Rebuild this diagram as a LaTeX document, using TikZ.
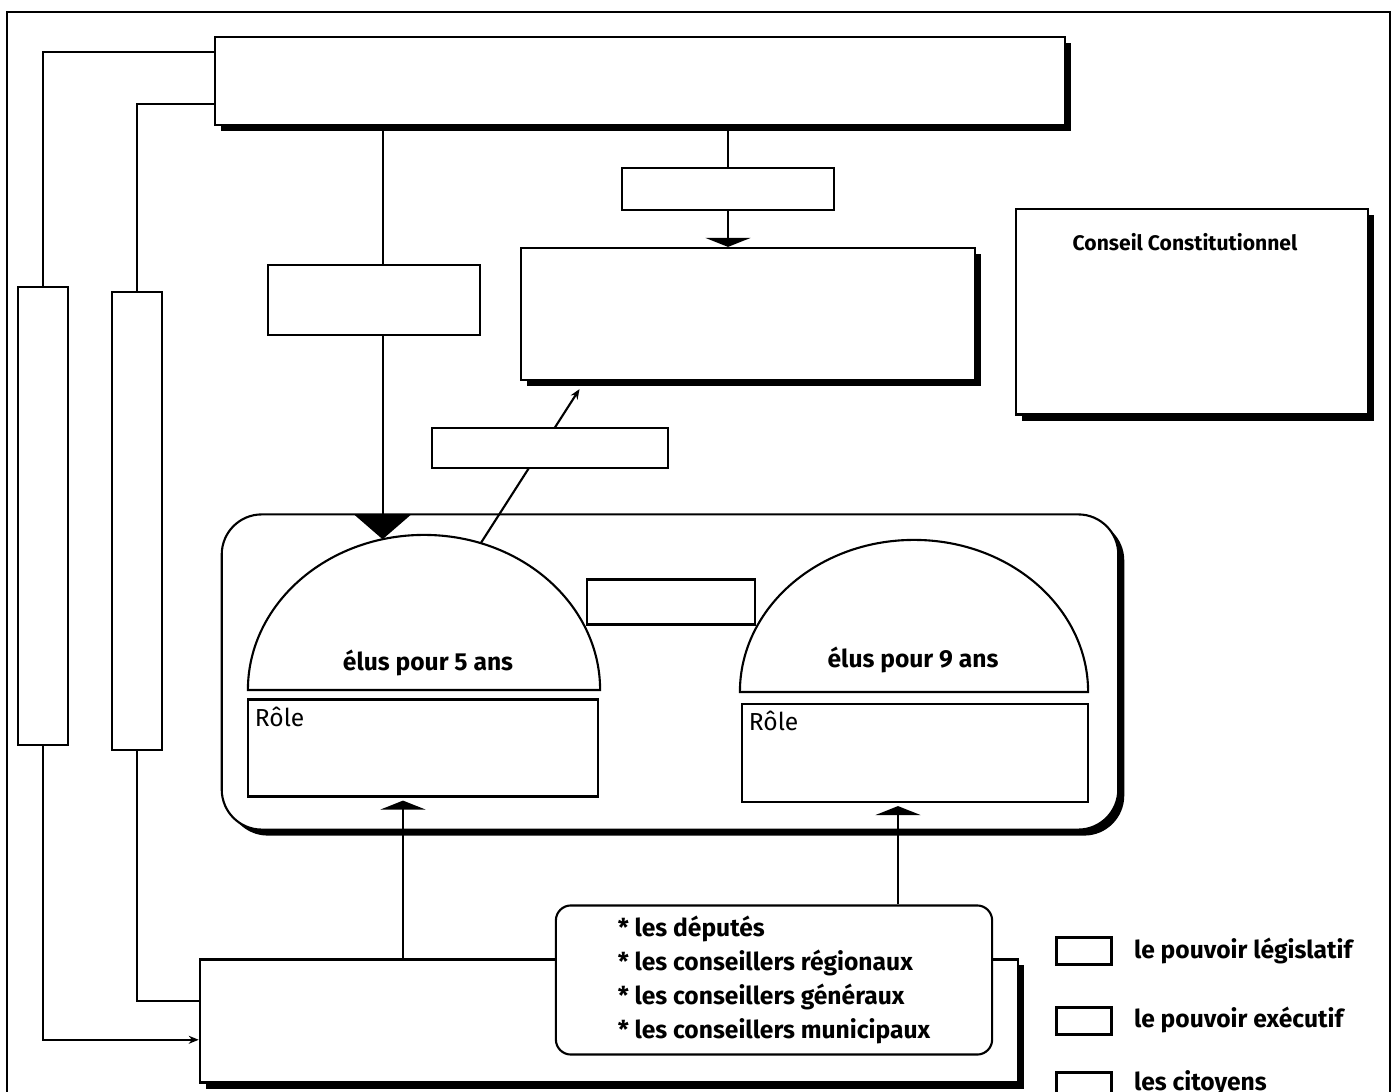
\documentclass[tikz,border=0pt]{standalone}
\usepackage{fontspec}
\setmainfont{Fira Sans}
\usetikzlibrary{calc,arrows.meta,shadows}

\tikzset{
  boite/.style={draw, fill=white, inner sep=0pt},
  ombre/.style={drop shadow={shadow xshift=0.06cm, shadow yshift=-0.06cm, fill=black, opacity=1}},
  fleche/.style={-{Triangle[width=0.45cm,length=0.09cm]}},
  grosse/.style={-{Triangle[width=0.55cm,length=0.24cm]}},
  petite/.style={-{Stealth[length=0.1cm,width=0.08cm]}},
  txt/.style={font=\fontsize{7}{9.7}\selectfont\bfseries, inner sep=0pt}
}

\begin{document}
\begin{tikzpicture}[x=0.01cm,y=-0.01cm,line width=0.6pt]
\useasboundingbox (0,0) rectangle (1398,1092);

% cadre
\draw (7,1092) |- (1390,12) -- (1390,1092);

\node[boite,ombre,minimum width=8.5cm,minimum height=0.88cm] (pres) at (640,81) {};
\node[boite,minimum width=0.5cm,minimum height=4.58cm] (barA) at (43,516) {};
\node[boite,minimum width=0.5cm,minimum height=4.58cm] (barB) at (137,521) {};
\node[boite,minimum width=2.12cm,minimum height=0.42cm] (pm) at (728,189) {};
\node[boite,ombre,minimum width=4.53cm,minimum height=1.32cm] (gouv) at (748,314) {};
\node[boite,ombre,minimum width=3.51cm,minimum height=2.05cm] (cc) at (1192,312) {};
\node[txt,font=\fontsize{6}{7}\selectfont\bfseries] (cctxt) at (1185,242) {Conseil Constitutionnel};

% parlement
\node[boite,ombre,rounded corners=0.4cm,minimum width=8.96cm,minimum height=3.15cm] (parl) at (670,672) {};
\coordinate (h1c) at (424,690);
\coordinate (h2c) at (914,692);
\draw[fill=white] (h1c) ++(-1.76cm,0) arc[start angle=180,end angle=0,x radius=1.76cm,y radius=1.55cm] -- cycle;
\draw[fill=white] (h2c) ++(-1.74cm,0) arc[start angle=180,end angle=0,x radius=1.74cm,y radius=1.52cm] -- cycle;
\node[txt] (elus1) at (428,663) {élus pour 5 ans};
\node[txt] (elus2) at (913,660) {élus pour 9 ans};
\node[boite,minimum width=3.5cm,minimum height=0.97cm,
  label={[anchor=north west,inner sep=2pt,font=\fontsize{7}{8}\selectfont]north west:Rôle}] (role1) at (423,748) {};
\node[boite,minimum width=3.46cm,minimum height=0.98cm,
  label={[anchor=north west,inner sep=2pt,font=\fontsize{7}{8}\selectfont]north west:Rôle}] (role2) at (915,753) {};
\node[boite,minimum width=1.68cm,minimum height=0.45cm] (mid) at (671,602) {};

% citoyens
\node[boite,ombre,minimum width=8.18cm,minimum height=1.23cm] (cit) at (609,1021) {};
\node[boite,rounded corners=0.15cm,minimum width=4.36cm,minimum height=1.49cm,txt,align=left] (liste) at (774,980)
  {* les députés\\* les conseillers régionaux\\* les conseillers généraux\\* les conseillers municipaux};

% legende
\node[boite,minimum width=0.55cm,minimum height=0.27cm] (leg1) at (1084,951) {};
\node[boite,minimum width=0.55cm,minimum height=0.27cm] (leg2) at (1084,1021) {};
\node[boite,minimum width=0.55cm,minimum height=0.27cm] (leg3) at (1084,1086) {};
\node[txt,anchor=west] (legt1) at (1133,951) {le pouvoir législatif};
\node[txt,anchor=west] (legt2) at (1133,1020) {le pouvoir exécutif};
\node[txt,anchor=west] (legt3) at (1133,1083) {les citoyens};

% liaisons
\coordinate (presA) at ($(pres.north west)!0.18!(pres.south west)$);
\coordinate (presB) at ($(pres.north west)!0.76!(pres.south west)$);
\coordinate (citA) at ($(cit.north west)!0.65!(cit.south west)$);
\coordinate (citB) at ($(cit.north west)!0.34!(cit.south west)$);
\draw (barA.north) |- (presA);
\draw (barB.north) |- (presB);
\draw[petite] (barA.south) |- (citA);
\draw (barB.south) |- (citB);

\coordinate (h1a) at ($(h1c)+(103.6:1.76cm and 1.55cm)$);
\coordinate (h1b) at ($(h1c)+(71.2:1.76cm and 1.55cm)$);
\coordinate (gouvb) at ($(gouv.south west)!0.13!(gouv.south east)+(0,8)$);
\draw[grosse] (pres.south -| h1a) -- (h1a);
\draw (pres.south -| pm) -- (pm.north);
\draw[fleche] (pm.south) -- (gouv.north -| pm);
\draw[petite] (h1b) -- (gouvb);
\draw[fleche] (cit.north -| 403,0) -- ([yshift=-0.03cm]role1.south -| 403,0);
\draw[fleche] (liste.north -| 898,0) -- ([yshift=-0.03cm]role2.south -| 898,0);

\node[boite,minimum width=2.12cm,minimum height=0.70cm] (nom1) at (374,300) {};
\node[boite,minimum width=2.35cm,minimum height=0.40cm] (nom2) at (550,448) {};
\end{tikzpicture}
\end{document}
